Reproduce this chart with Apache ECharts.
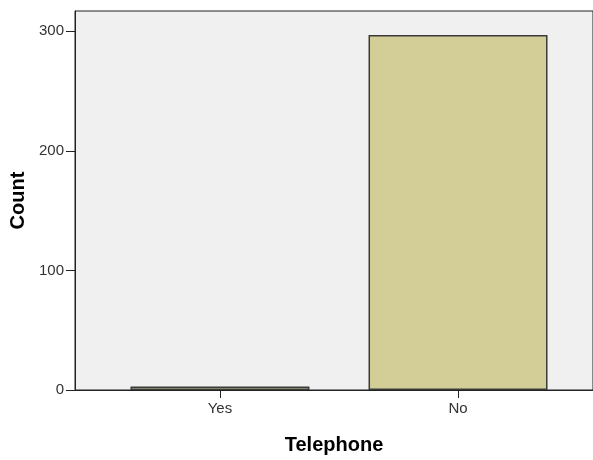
<!DOCTYPE html>
<html>
<head>
<meta charset="utf-8">
<script src="https://cdn.jsdelivr.net/npm/echarts@6/dist/echarts.min.js"></script>
<style>html,body{margin:0;padding:0;background:#fff;}#c{width:593px;height:460px;}</style>
</head>
<body>
<div id="c"></div>
<script>
const categories = ['Yes', 'No'];
const counts = [3, 297];
const yTicks = [0, 100, 200, 300];
const xTicks = [0, 1];

const chart = echarts.init(document.getElementById('c'), null, {renderer: 'canvas'});
const font = '"Liberation Sans", Arial, sans-serif';
chart.setOption({
  animation: false,
  grid: {
    left: 74, top: 11, right: -1, bottom: 68,
    show: true, backgroundColor: '#f0f0f0', borderColor: '#222', borderWidth: 1
  },
  xAxis: {
    type: 'value',
    min: -0.609, max: 1.567,
    name: 'Telephone', nameLocation: 'middle', nameGap: 45,
    nameTextStyle: {fontFamily: font, fontWeight: 'bold', fontSize: 20, color: '#000'},
    axisLine: {show: true, onZero: false, lineStyle: {color: '#222', width: 1}},
    axisTick: {show: true, length: 8, customValues: xTicks, lineStyle: {color: '#222'}},
    axisLabel: {customValues: xTicks, margin: 11, fontFamily: font, fontSize: 15, color: '#333',
      formatter: v => categories[Math.round(v)] || ''},
    splitLine: {show: false}
  },
  yAxis: {
    type: 'value',
    min: 0, max: 317,
    name: 'Count', nameLocation: 'middle', nameGap: 47, nameRotate: 90, nameMoveOverlap: false,
    nameTextStyle: {fontFamily: font, fontWeight: 'bold', fontSize: 20, color: '#000'},
    axisLine: {show: true, onZero: false, lineStyle: {color: '#222', width: 1}},
    axisTick: {show: true, length: 9, customValues: yTicks, lineStyle: {color: '#222'}},
    axisLabel: {customValues: yTicks, margin: 11, fontFamily: font, fontSize: 15, color: '#333'},
    splitLine: {show: false}
  },
  series: [{
    type: 'bar',
    barWidth: 179,
    data: categories.map((c, i) => [i, counts[i]]),
    itemStyle: {color: '#d3ce97', borderColor: '#3a3a3a', borderWidth: 1.5}
  }]
});
</script>
</body>
</html>
